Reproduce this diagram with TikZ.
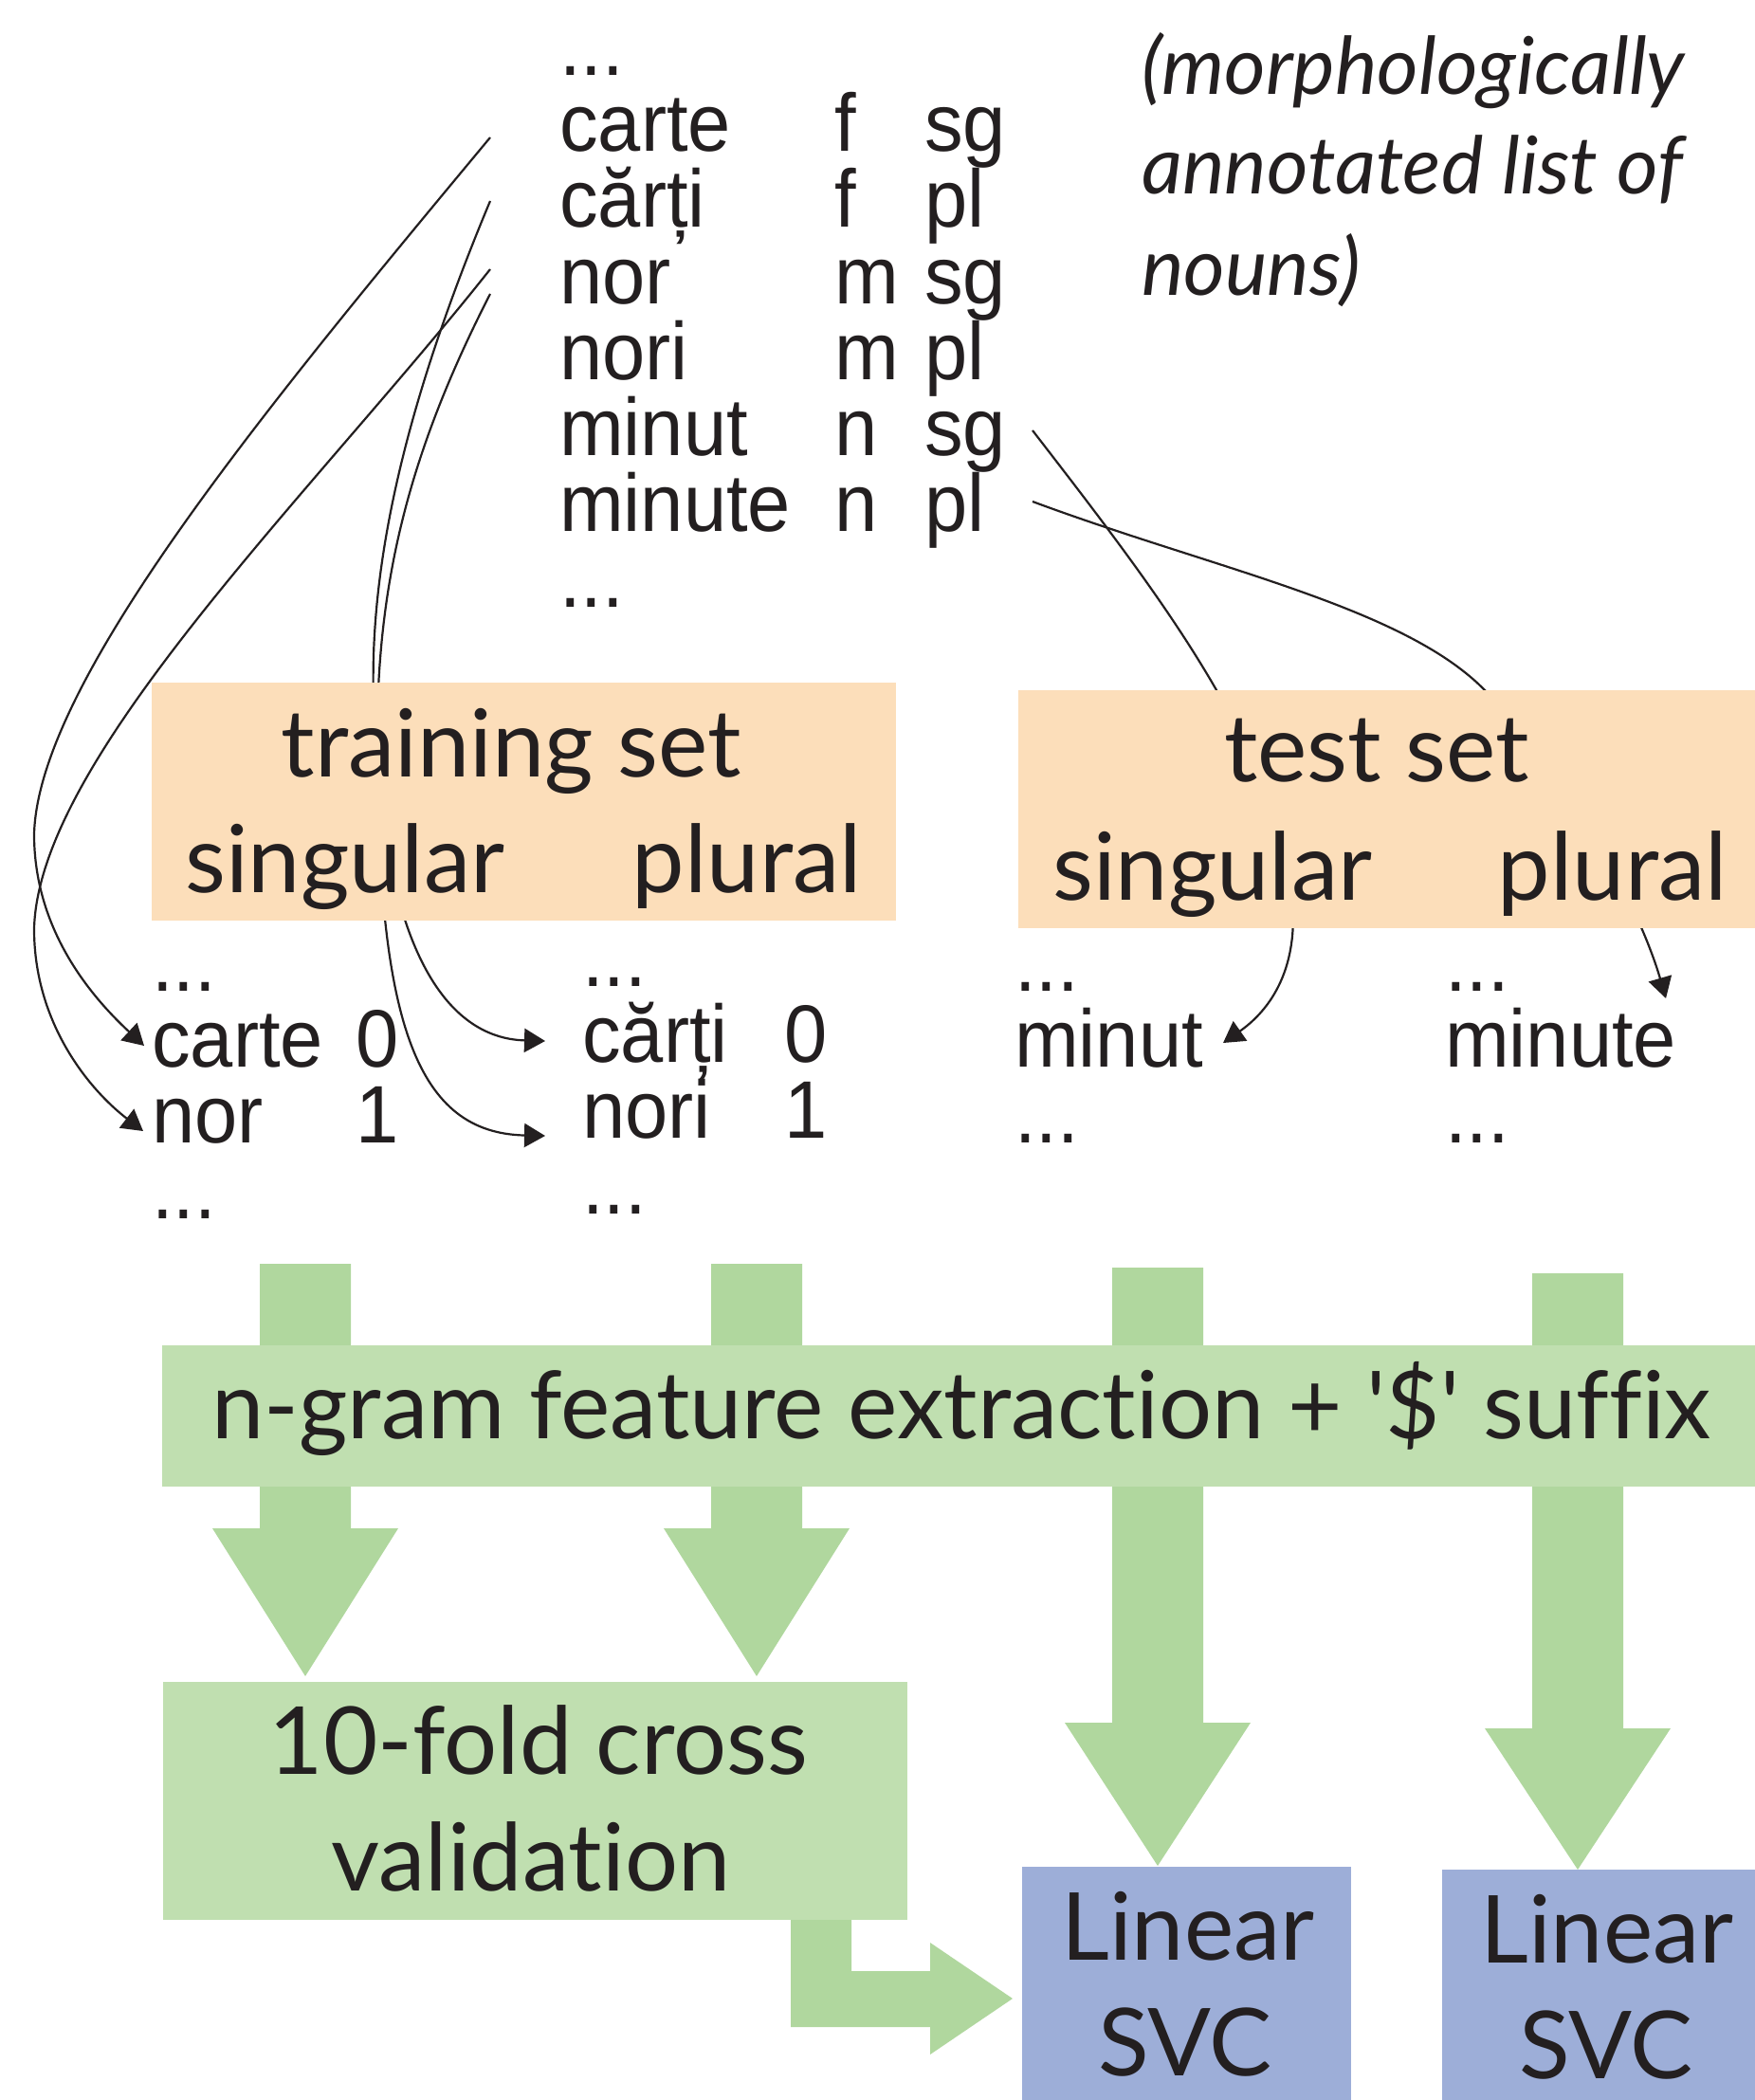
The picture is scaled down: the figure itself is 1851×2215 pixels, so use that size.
\documentclass[tikz,border=0pt]{standalone}
\usepackage{fontspec}
\setmainfont{Lato}[Ligatures=NoCommon]
\newfontfamily\listfont[FakeStretch=0.945]{Liberation Sans}
\usetikzlibrary{arrows.meta}

\definecolor{ink}{RGB}{35,31,32}
\definecolor{peach}{RGB}{252,222,186}
\definecolor{boxgreen}{RGB}{192,223,176}
\definecolor{fatgreen}{RGB}{176,215,158}
\definecolor{svcblue}{RGB}{157,174,216}

\begin{document}
\begin{tikzpicture}[x=1pt, y=-1pt,
  word/.style={font=\listfont\fontsize{86}{86}\selectfont, text=ink, inner sep=0pt, anchor=base west},
  big/.style={font=\fontsize{99}{99}\selectfont, text=ink, inner sep=0pt, anchor=base},
  note/.style={font=\itshape\fontsize{84}{84}\selectfont, text=ink, inner sep=0pt, anchor=base west},
  panel/.style={inner sep=0pt, outer sep=0pt, draw=none, anchor=north west},
  link/.style={draw=ink, line width=2.2pt, -{Triangle[length=22pt,width=25pt]}},
  fat/.style={fill=fatgreen, draw=none}]
\useasboundingbox (0,0) rectangle (1851,2215);

% annotated noun list
\node[word] (top-dots) at (590,80) {...};
\foreach \w/\g/\n [count=\i] in {carte/f/sg, cărți/f/pl, nor/m/sg, nori/m/pl, minut/n/sg, minute/n/pl} {
  \node[word] (w\i) at (590,80+80*\i) {\w};
  \node[word] (g\i) at (880,80+80*\i) {\g};
  \node[word] (n\i) at (975,80+80*\i) {\n};
}
\node[word] (bot-dots) at (590,640) {...};

\node[note] (note1) at (1204,100) {(morphologically};
\node[note] (note2) at (1204,205) {annotated list of};
\node[note] (note3) at (1204,312) {nouns)};

% split lists
\node[word] at (160,1045) {...};
\node[word] (tr-carte) at (160,1125) {carte};
\node[word] at (375,1125) {0};
\node[word] (tr-nor) at (160,1205) {nor};
\node[word] at (375,1205) {1};
\node[word] at (160,1285) {...};

\node[word] at (614,1040) {...};
\node[word] (tr-carti) at (614,1120) {cărți};
\node[word] at (827,1120) {0};
\node[word] (tr-nori) at (614,1200) {nori};
\node[word] at (827,1200) {1};
\node[word] at (614,1280) {...};

\node[word] at (1070,1045) {...};
\node[word] (te-minut) at (1070,1125) {minut};
\node[word] at (1070,1205) {...};

\node[word] at (1524,1045) {...};
\node[word] (te-minute) at (1524,1125) {minute};
\node[word] at (1524,1205) {...};

% where the links leave the list
\coordinate (from-carte) at ([shift={(-73,-15)}]w1.base west);
\coordinate (from-carti) at ([shift={(-73,-28)}]w2.base west);
\coordinate (from-nor) at ([shift={(-73,-36)}]w3.base west);
\coordinate (from-nori) at ([shift={(-73,-90)}]w4.base west);
\coordinate (from-minut) at ([shift={(114,-26)}]n5.base west);
\coordinate (from-minute) at ([shift={(114,-31)}]n6.base west);

\draw[link] (from-carte) .. controls (280,430) and (40,720) .. (36,880)
  .. controls (36,980) and (95,1050) .. ([shift={(-8,-22)}]tr-carte.base west);
\draw[link] (from-nor) .. controls (330,520) and (40,800) .. (36,980)
  .. controls (36,1080) and (95,1150) .. ([shift={(-9,-12)}]tr-nor.base west);
\draw[link] (from-carti) .. controls (430,420) and (385,600) .. (395,760)
  .. controls (405,1000) and (470,1095) .. ([shift={(-39,-22)}]tr-carti.base west);
\draw[link] (from-nori) .. controls (430,480) and (395,620) .. (398,800)
  .. controls (400,1080) and (440,1195) .. ([shift={(-39,-2)}]tr-nori.base west);
\draw[link] (from-minut) .. controls (1225,630) and (1340,780) .. (1362,940)
  .. controls (1372,1020) and (1340,1065) .. ([shift={(220,-25)}]te-minut.base west);
\draw[link] (from-minute) .. controls (1280,600) and (1480,640) .. (1566,728)
  .. controls (1660,825) and (1730,960) .. ([shift={(233,-72)}]te-minute.base west);

% training and test sets
\node[panel, fill=peach, minimum width=785pt, minimum height=251pt] (train) at (160,720) {};
\node[panel, fill=peach, minimum width=777pt, minimum height=251pt] (test) at (1074,728) {};
\node[big] at (539,819) {training set};
\node[big, anchor=base west] at (195,941) {singular};
\node[big, anchor=base east] at (909,941) {plural};
\node[big] at (1452,824) {test set};
\node[big, anchor=base west] at (1110,949) {singular};
\node[big, anchor=base east] at (1822,949) {plural};

% fat arrows through the feature step
\foreach \cx/\top/\neck/\tip in {322/1333/1612/1768, 798/1333/1612/1768, 1221/1337/1817/1968, 1664/1343/1823/1972}
  \fill[fat] (\cx-48,\top) -- (\cx+48,\top) -- (\cx+48,\neck) -- (\cx+98,\neck)
    -- (\cx,\tip) -- (\cx-98,\neck) -- (\cx-48,\neck) -- cycle;
\fill[fat] (834,2019) -- (898,2019) -- (898,2079) -- (981,2079) -- (981,2049)
  -- (1068,2108) -- (981,2167) -- (981,2138) -- (834,2138) -- cycle;

\node[panel, fill=boxgreen, minimum width=1680pt, minimum height=149pt] (ngram) at (171,1419) {};
\node[panel, fill=boxgreen, minimum width=785pt, minimum height=251pt] (cv) at (172,1774) {};
\node[panel, fill=svcblue, minimum width=347pt, minimum height=246pt] (svc1) at (1078,1969) {};
\node[panel, fill=svcblue, minimum width=330pt, minimum height=243pt] (svc2) at (1521,1972) {};

\node[big] at (1014,1517) {n-gram feature extraction + \textquotesingle\$\textquotesingle{} suffix};
\node[big] at (568,1871) {10-fold cross};
\node[big] at (560,1994) {validation};
\node[big] at (1253,2067) {Linear};
\node[big] at (1250,2189) {SVC};
\node[big] at (1695,2070) {Linear};
\node[big] at (1694,2192) {SVC};
\end{tikzpicture}
\end{document}
